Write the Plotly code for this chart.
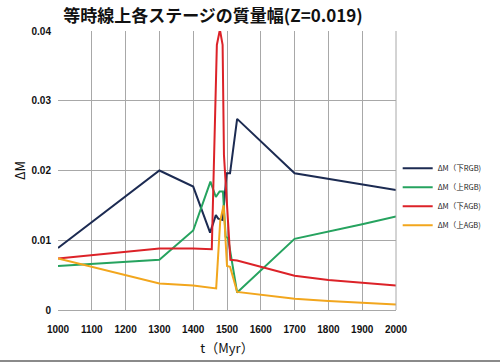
import plotly.graph_objects as go

# --- data ---
t_lrgb = [1000, 1300, 1400, 1450, 1467, 1474, 1487, 1499, 1509, 1530, 1700, 1800, 1900, 2000]
m_lrgb = [0.0089, 0.0200, 0.0177, 0.0111, 0.0136, 0.0131, 0.0129, 0.0196, 0.0196, 0.0274, 0.0196, 0.0188, 0.0180, 0.0172]

t_urgb = [1000, 1300, 1400, 1451, 1467, 1478, 1488, 1496, 1503, 1530, 1700, 1800, 1900, 2000]
m_urgb = [0.0063, 0.0072, 0.0114, 0.0184, 0.0162, 0.0170, 0.0170, 0.0105, 0.0103, 0.0025, 0.0102, 0.0112, 0.0123, 0.0134]

t_lagb = [1000, 1300, 1400, 1455, 1470, 1479, 1487, 1491, 1510, 1530, 1700, 1800, 1900, 2000]
m_lagb = [0.0074, 0.0088, 0.0088, 0.0087, 0.0380, 0.0402, 0.0380, 0.0222, 0.0072, 0.0071, 0.0049, 0.0043, 0.0039, 0.0035]

t_uagb = [1000, 1300, 1400, 1468, 1480, 1490, 1500, 1509, 1530, 1700, 1800, 1900, 2000]
m_uagb = [0.0074, 0.0038, 0.0035, 0.0031, 0.0128, 0.0150, 0.0063, 0.0062, 0.0026, 0.0016, 0.0013, 0.0010, 0.0008]

names = ["ΔM（下RGB)", "ΔM（上RGB)", "ΔM（下AGB)", "ΔM（上AGB)"]
colors = ["#1c2b52", "#26a35f", "#dc2228", "#f2a61d"]

x_ticks = list(range(1000, 2001, 100))
y_ticks = [0, 0.01, 0.02, 0.03, 0.04]
y_ticktext = ["0", "0.01", "0.02", "0.03", "0.04"]

series = [(t_lrgb, m_lrgb), (t_urgb, m_urgb), (t_lagb, m_lagb), (t_uagb, m_uagb)]

fig = go.Figure()
for (tx, my), nm, col in zip(series, names, colors):
    fig.add_trace(go.Scatter(x=tx, y=my, mode="lines", name=nm,
                             line=dict(color=col, width=2)))

tickfont = dict(family="Liberation Sans, Arial, sans-serif", size=10, color="#111")

fig.update_layout(
    width=500, height=363,
    margin=dict(l=58, r=104, t=31, b=53, autoexpand=False),
    paper_bgcolor="white", plot_bgcolor="white",
    title=dict(text="<b>等時線上各ステージの質量幅(Z=0.019)</b>",
               font=dict(family="Noto Sans CJK JP", size=17, color="#111"),
               x=0.426, xanchor="center", y=0.956, yanchor="middle"),
    xaxis=dict(range=[1000, 2000], tickvals=x_ticks,
               ticktext=[f"<b>{v}</b>" for v in x_ticks],
               tickfont=tickfont, showgrid=True, gridcolor="#a8a8a8", gridwidth=1,
               showline=True, linecolor="#a8a8a8", mirror=False, ticks="",
               zeroline=False, ticklabelstandoff=10, automargin=False,
               title=dict(text="t（Myr）", font=dict(family="Noto Sans CJK JP", size=13, color="#111"),
                          standoff=9)),
    yaxis=dict(range=[0, 0.04], tickvals=y_ticks,
               ticktext=[f"<b>{v}</b>" for v in y_ticktext],
               tickfont=tickfont, showgrid=True, gridcolor="#a8a8a8", gridwidth=1,
               showline=False, zeroline=False, ticks="", ticklabelstandoff=6, automargin=False,
               title=dict(text="ΔM", font=dict(family="Noto Sans CJK JP", size=13, color="#111"),
                          standoff=2)),
    legend=dict(x=1.005, y=0.56, xanchor="left", yanchor="top",
                font=dict(family="Noto Sans CJK JP", size=7.5, color="#222"),
                itemwidth=30, tracegroupgap=0, bgcolor="rgba(0,0,0,0)"),
    showlegend=True,
)

# right border of plot (grid at 2000) and image bottom frame line
fig.add_shape(type="line", xref="paper", yref="paper", x0=1, x1=1, y0=0, y1=1,
              line=dict(color="#a8a8a8", width=1))
fig.add_shape(type="line", xref="paper", yref="paper", x0=-0.2, x1=1.35, y0=-0.183, y1=-0.183,
              line=dict(color="#8a8a8a", width=2))

fig.write_html("out.html", config={"displayModeBar": False},
               post_script="document.body.style.margin='0';document.body.style.overflow='hidden';")
